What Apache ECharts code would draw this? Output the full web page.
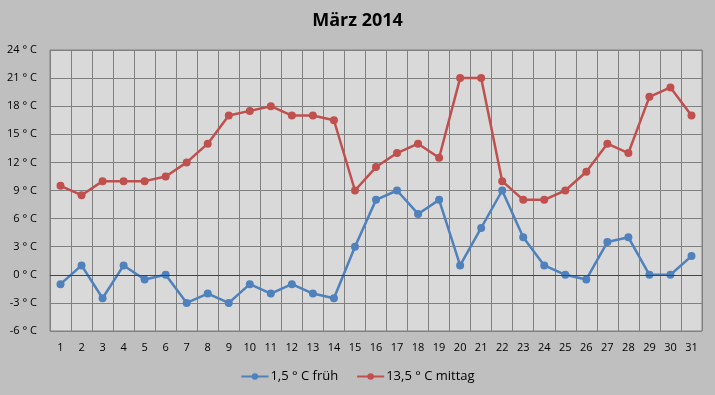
<!DOCTYPE html>
<html><head><meta charset="utf-8">
<script src="https://cdn.jsdelivr.net/npm/echarts@6/dist/echarts.min.js"></script>
<style>html,body{margin:0;padding:0;background:#bfbfbf}#c{width:715px;height:395px}</style>
</head><body><div id="c"></div>
<script>
const categories = ['1','2','3','4','5','6','7','8','9','10','11','12','13','14','15','16','17','18','19','20','21','22','23','24','25','26','27','28','29','30','31'];
const frueh = [-1,1,-2.5,1,-0.5,0,-3,-2,-3,-1,-2,-1,-2,-2.5,3,8,9,6.5,8,1,5,9,4,1,0,-0.5,3.5,4,0,0,2];
const mittag = [9.5,8.5,10,10,10,10.5,12,14,17,17.5,18,17,17,16.5,9,11.5,13,14,12.5,21,21,10,8,8,9,11,14,13,19,20,17];
const seriesNames = ['1,5 ° C früh','13,5 ° C mittag'];
const font = 'Open Sans, Noto Sans, sans-serif';
const chart = echarts.init(document.getElementById('c'));
chart.setOption({
  backgroundColor:'#bfbfbf',
  animation:false,
  title:{text:'März 2014',left:'center',top:7,textStyle:{fontFamily:font,fontSize:18,fontWeight:'bold',color:'#000'}},
  grid:{left:50,right:13,top:50,bottom:64,show:true,backgroundColor:'#d9d9d9',borderColor:'#808080',borderWidth:1},
  legend:{bottom:7,left:'center',itemWidth:27,itemHeight:8,itemGap:18,textStyle:{fontFamily:font,fontSize:13,color:'#000',padding:[0,0,0,-3]},data:seriesNames},
  xAxis:{type:'category',data:categories,boundaryGap:true,
    axisLine:{lineStyle:{color:'#808080'}},axisTick:{show:false},
    axisLabel:{color:'#000',fontFamily:font,fontSize:11,margin:11,interval:0},
    splitLine:{show:true,interval:0,lineStyle:{color:'#808080',width:1}}},
  yAxis:{type:'value',min:-6,max:24,interval:3,
    axisLine:{show:false},axisTick:{show:false},
    axisLabel:{color:'#000',fontFamily:font,fontSize:11,margin:13,formatter:v=>v+' ° C'},
    splitLine:{lineStyle:{color:'#808080',width:1}}},
  series:[
    {name:seriesNames[0],type:'line',data:frueh,symbol:'circle',symbolSize:8,
     itemStyle:{color:'#4f81bd'},lineStyle:{color:'#4f81bd',width:2.5},
     markLine:{silent:true,symbol:'none',label:{show:false},lineStyle:{color:'#e00000',type:'solid',width:1.2},data:[{yAxis:0}]},z:3},
    {name:seriesNames[1],type:'line',data:mittag,symbol:'circle',symbolSize:8,
     itemStyle:{color:'#c0504d'},lineStyle:{color:'#c0504d',width:2.5},z:3}
  ]
});
</script></body></html>
